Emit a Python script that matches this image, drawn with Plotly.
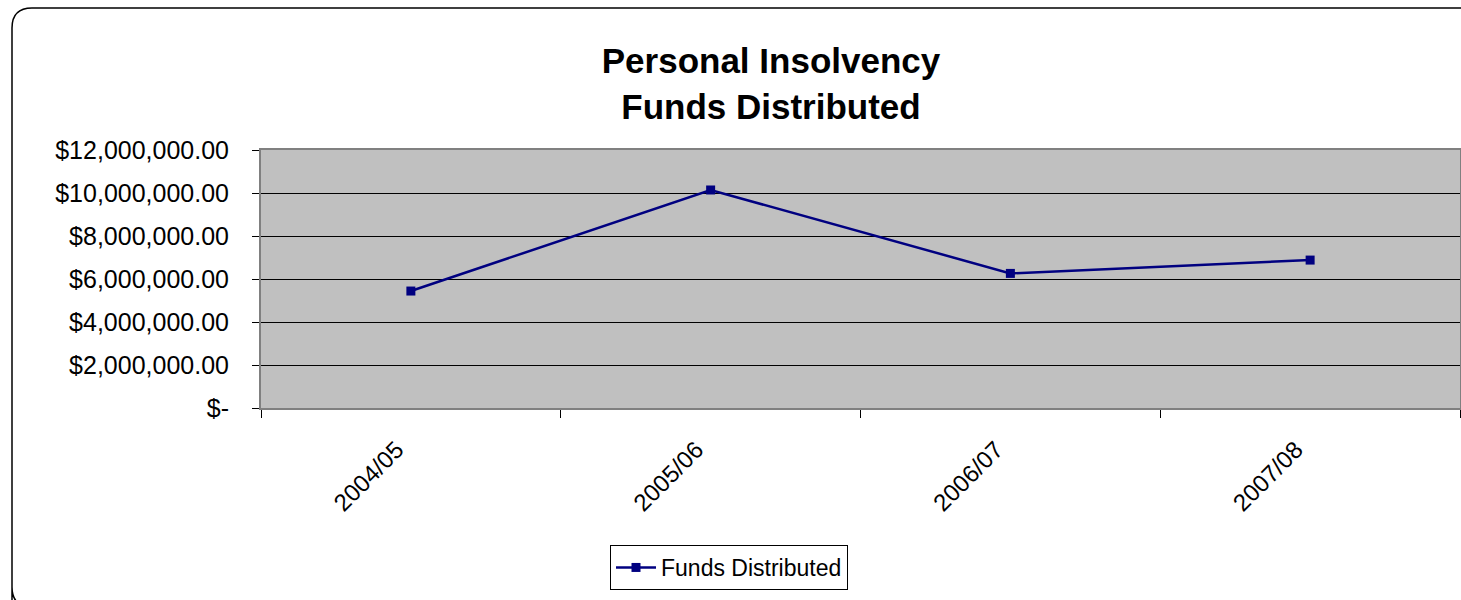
import plotly.graph_objects as go

categories = ["2004/05", "2005/06", "2006/07", "2007/08"]
funds = [5440000, 10140000, 6260000, 6880000]
ytick_vals = [0, 2000000, 4000000, 6000000, 8000000, 10000000, 12000000]
ytick_text = ["$-", "$2,000,000.00", "$4,000,000.00", "$6,000,000.00",
              "$8,000,000.00", "$10,000,000.00", "$12,000,000.00"]

W, H = 1461, 600
L, R, T, B = 261, 1460, 150, 408
FONT = "Liberation Sans, Arial, sans-serif"


def px(x):
    return (x - L) / (R - L)


def py(y):
    return 1 - (y - T) / (B - T)


fig = go.Figure()
fig.add_trace(go.Scatter(
    x=categories, y=funds, mode="lines+markers", name="Funds Distributed",
    line=dict(color="#000080", width=2.5),
    marker=dict(symbol="square", size=9, color="#000080"),
))

path = (f"M {px(12)} {py(620)} L {px(12)} {py(28)} "
        f"Q {px(12)} {py(8)} {px(32)} {py(8)} L {px(1490)} {py(8)} "
        f"M {px(12)} {py(587)} Q {px(12)} {py(607)} {px(32)} {py(607)} L {px(1490)} {py(607)}")
fig.add_shape(type="path", xref="paper", yref="paper", path=path,
              line=dict(color="#000000", width=1.5), layer="above")

fig.update_layout(
    width=W, height=H,
    margin=dict(l=L, r=W - R, t=T, b=H - B, autoexpand=False),
    paper_bgcolor="white", plot_bgcolor="#C0C0C0",
    font=dict(family=FONT, color="black"),
    title=dict(text="<b>Personal Insolvency<br>Funds Distributed</b>",
               x=771 / W, xanchor="center", y=1 - 73 / H, yanchor="middle",
               font=dict(size=35, family=FONT)),
    showlegend=True,
    legend=dict(x=px(610), y=py(545), xanchor="left", yanchor="top",
                bordercolor="black", borderwidth=1, bgcolor="white",
                itemwidth=40,
                font=dict(size=23, family=FONT)),
    xaxis=dict(type="category", tickson="boundaries", ticks="outside",
               ticklen=8, tickcolor="black", tickangle=-45,
               tickvals=categories,
               ticktext=[c + "\u00a0\u00a0\u00a0" for c in categories],
               tickfont=dict(size=24, family=FONT), ticklabelstandoff=2,
               showline=True, linecolor="#808080", linewidth=2, mirror=True,
               showgrid=False, range=[-0.5, 3.5]),
    yaxis=dict(range=[0, 12000000], tickvals=ytick_vals, ticktext=ytick_text,
               ticks="outside", ticklen=7, tickcolor="black",
               tickfont=dict(size=25, family=FONT), ticklabelstandoff=18,
               showline=True, linecolor="#808080", linewidth=2, mirror=True,
               showgrid=True, gridcolor="black", gridwidth=1, zeroline=False),
)

fig.write_html("out.html", config={"displayModeBar": False},
               post_script="document.body.style.margin='0';document.body.style.overflow='hidden';")
